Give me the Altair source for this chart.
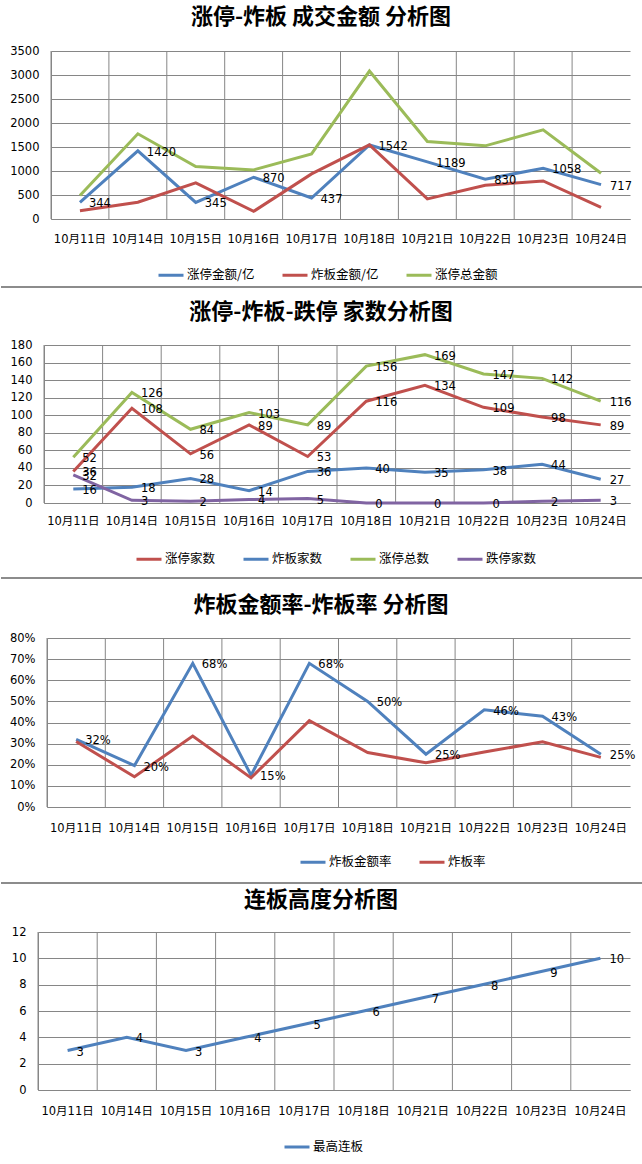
import altair as alt
import pandas as pd

dates = ["10月11日", "10月14日", "10月15日", "10月16日", "10月17日",
         "10月18日", "10月21日", "10月22日", "10月23日", "10月24日"]

# panel 1: 成交金额
amt_zt = [344, 1420, 345, 870, 437, 1542, 1189, 830, 1058, 717]
amt_zb = [174, 348, 752, 160, 940, 1545, 418, 703, 793, 244]
amt_total = [490, 1775, 1093, 1023, 1357, 3083, 1614, 1524, 1858, 953]

# panel 2: 家数
cnt_zt = [36, 108, 56, 89, 53, 116, 134, 109, 98, 89]
cnt_zb = [16, 18, 28, 14, 36, 40, 35, 38, 44, 27]
cnt_total = [52, 126, 84, 103, 89, 156, 169, 147, 142, 116]
cnt_dt = [32, 3, 2, 4, 5, 0, 0, 0, 2, 3]

# panel 3: 比率
rate_amt = [0.32, 0.196, 0.68, 0.15, 0.68, 0.50, 0.25, 0.46, 0.43, 0.25]
rate_cnt = [0.31, 0.143, 0.336, 0.138, 0.409, 0.258, 0.209, 0.26, 0.309, 0.235]

# panel 4: 连板高度
height_max = [3, 4, 3, 4, 5, 6, 7, 8, 9, 10]

BLUE, RED, GREEN, PURPLE = "#4F81BD", "#C0504D", "#9BBB59", "#8064A2"
GRID = "#868686"
FONT = "DejaVu Sans, Noto Sans CJK SC"
CJK = "Noto Sans CJK SC"
RIGHT = 630


def long_df(series):
    rows = []
    for name, vals in series:
        for d, v in zip(dates, vals):
            rows.append({"date": d, "series": name, "value": v})
    return pd.DataFrame(rows)


def spacer():
    return alt.Chart(pd.DataFrame({"k": [0]})).mark_rect(opacity=0).encode(
        x=alt.value(0), x2=alt.value(1), y=alt.value(0), y2=alt.value(1)
    ).properties(width=1, height=1, view=alt.ViewConfig(strokeOpacity=0, fillOpacity=0))


def band(ox, top, y1, y2, color):
    # full-width strip (page coords y1..y2); its left edge fixes the panel origin
    return alt.Chart(pd.DataFrame({"k": [0]})).mark_rect(color=color).encode(
        x=alt.value(1 - ox), x2=alt.value(642 - ox),
        y=alt.value(y1 - top), y2=alt.value(y2 - top))


def panel(series, colors, labeled, ydomain, yvalues, yfmt, lblfmt, ox, top, bottom,
          sep_top, bound_bottom, title, title_y, xpad, leg_x, leg_y, first=False):
    w = RIGHT - ox
    h = bottom - top
    df = long_df(series)
    names = [s[0] for s in series]
    xscale = alt.Scale(type="band", paddingInner=0, paddingOuter=0)
    xaxis = alt.Axis(labelPadding=xpad, labelAngle=0, grid=False,
                     ticks=False, tickSize=0, domainColor=GRID,
                     labelFontSize=11.5, labelOverlap=False)
    xenc = alt.X("date:N", sort=dates, title=None, scale=xscale, axis=xaxis)
    yscale = alt.Scale(domain=ydomain, nice=False, zero=True)
    yaxis = alt.Axis(values=yvalues, format=yfmt, grid=True, gridColor=GRID,
                     ticks=False, tickSize=0, labelPadding=12,
                     domainColor=GRID, labelFontSize=11.5, labelOverlap=False)
    yenc = alt.Y("value:Q", title=None, scale=yscale, axis=yaxis)
    grid_v = alt.Chart(pd.DataFrame({"date": dates})).mark_rule(
        color=GRID, strokeWidth=1).encode(
        x=alt.X("date:N", sort=dates, title=None, scale=xscale, axis=xaxis, bandPosition=0),
        y=alt.value(0), y2=alt.value(h))
    lines = alt.Chart(df).mark_line(strokeWidth=3).encode(
        x=xenc, y=yenc,
        color=alt.Color("series:N",
                        scale=alt.Scale(domain=names, range=colors),
                        legend=alt.Legend(orient="none", legendX=leg_x - ox,
                                          legendY=leg_y - top, direction="horizontal",
                                          title=None, symbolType="stroke",
                                          symbolSize=625, symbolStrokeWidth=3,
                                          labelFont=CJK, labelFontSize=12.5,
                                          labelColor="black", labelOffset=2,
                                          columnPadding=21, padding=0)))
    labels = alt.Chart(df[df["series"].isin(labeled)]).mark_text(
        align="left", baseline="middle", dx=9, dy=2, font=FONT, fontSize=11.5,
        color="black").encode(
        x=xenc, y=yenc,
        text=alt.Text("value:Q", format=lblfmt))
    ttl = alt.Chart(pd.DataFrame({"t": [title]})).mark_text(
        font=CJK, fontSize=22, fontWeight="bold", align="center",
        baseline="middle", color="black").encode(
        x=alt.value(321 - ox), y=alt.value(title_y - top), text="t:N")
    if first:
        top_band = band(ox, top, 0, 1, "white")
    else:
        top_band = band(ox, top, sep_top - 1, sep_top + 1, "#8c8c8c")
    bot_band = band(ox, top, bound_bottom - 1, bound_bottom, "white")
    layer = alt.layer(bot_band, grid_v, lines, labels, ttl, top_band).properties(
        width=w, height=h, view=alt.ViewConfig(stroke=GRID, strokeWidth=1))
    return alt.hconcat(spacer(), layer, spacing=0).resolve_scale(
        color="independent", x="independent", y="independent"
    ).resolve_legend(color="independent")


p1 = panel([("涨停金额/亿", amt_zt), ("炸板金额/亿", amt_zb), ("涨停总金额", amt_total)],
           [BLUE, RED, GREEN], ["涨停金额/亿"], [0, 3500], list(range(0, 3501, 500)), "d", "d",
           ox=51, top=51, bottom=219, sep_top=0, bound_bottom=286,
           title="涨停-炸板 成交金额 分析图", title_y=17, xpad=14, leg_x=157, leg_y=261, first=True)

p2 = panel([("涨停家数", cnt_zt), ("炸板家数", cnt_zb), ("涨停总数", cnt_total), ("跌停家数", cnt_dt)],
           [RED, BLUE, GREEN, PURPLE], ["涨停家数", "炸板家数", "涨停总数", "跌停家数"],
           [0, 180], list(range(0, 181, 20)), "d", "d",
           ox=44, top=345, bottom=503, sep_top=287, bound_bottom=577,
           title="涨停-炸板-跌停 家数分析图", title_y=312, xpad=12, leg_x=135, leg_y=545)

p3 = panel([("炸板金额率", rate_amt), ("炸板率", rate_cnt)],
           [BLUE, RED], ["炸板金额率"], [0, 0.8], [i / 10 for i in range(9)], ".0%", ".0%",
           ox=47, top=638, bottom=807, sep_top=578, bound_bottom=882,
           title="炸板金额率-炸板率 分析图", title_y=605, xpad=15, leg_x=299, leg_y=848)

p4 = panel([("最高连板", height_max)], [BLUE], ["最高连板"], [0, 12], list(range(0, 13, 2)), "d", "d",
           ox=38, top=932, bottom=1090, sep_top=883, bound_bottom=1159,
           title="连板高度分析图", title_y=900, xpad=15, leg_x=283, leg_y=1133)

chart = alt.vconcat(p1, p2, p3, p4, spacing=0).resolve_scale(
    color="independent", x="independent", y="independent"
).resolve_legend(color="independent").properties(
    padding=0, background="white"
).configure_view(strokeOpacity=0).configure_axis(
    labelFont=FONT, labelColor="black"
)

chart.save("out.html", embed_options={"renderer": "svg", "actions": False})
